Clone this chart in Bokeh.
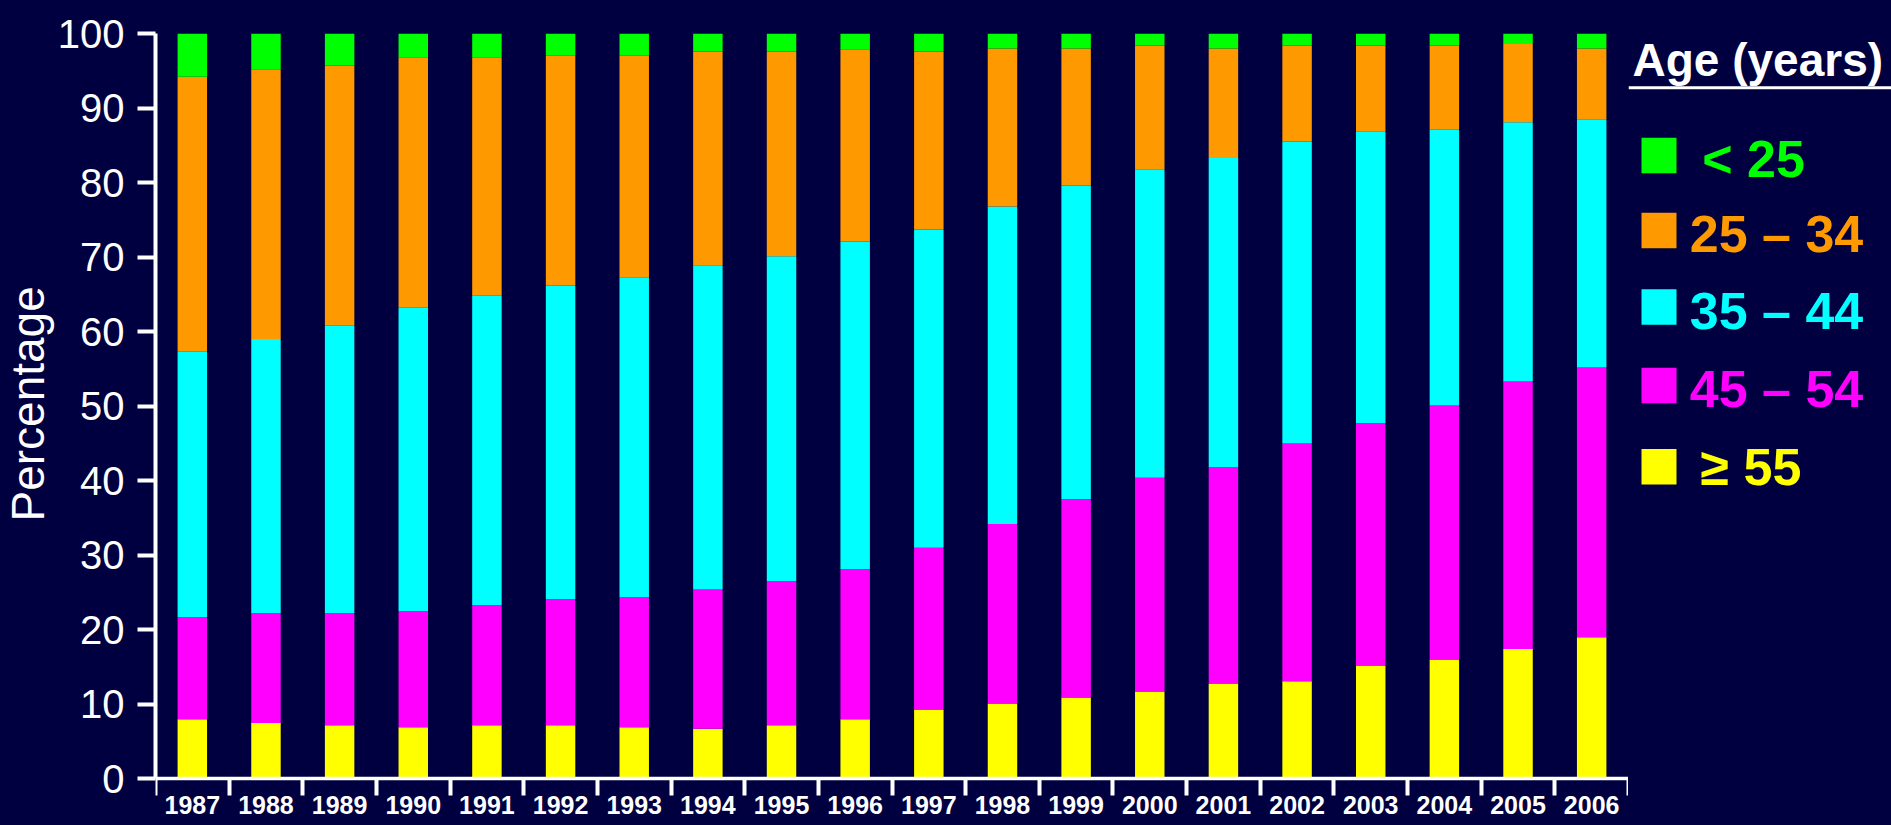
from bokeh.plotting import figure
from bokeh.models import (Range1d, LinearAxis, FixedTicker, ColumnDataSource, Label, Title)
from bokeh.layouts import row
from bokeh.core.properties import value
from bokeh.embed import file_html
from bokeh.resources import INLINE

# ---------------- data ----------------
years = ["1987", "1988", "1989", "1990", "1991", "1992", "1993", "1994", "1995", "1996",
         "1997", "1998", "1999", "2000", "2001", "2002", "2003", "2004", "2005", "2006"]
ge55 = [8.0, 7.5, 7.2, 6.9, 7.2, 7.2, 6.9, 6.7, 7.2, 8.0, 9.3, 10.1, 10.9, 11.7, 12.8, 13.1, 15.2, 16.0, 17.4, 19.0]
a45_54 = [13.7, 14.7, 15.0, 15.6, 16.1, 16.9, 17.5, 18.7, 19.3, 20.1, 21.7, 24.1, 26.6, 28.7, 29.0, 31.9, 32.5, 34.1, 35.9, 36.2]
a35_44 = [35.6, 36.8, 38.6, 40.7, 41.5, 42.1, 42.9, 43.5, 43.6, 44.0, 42.7, 42.6, 42.1, 41.4, 41.5, 40.5, 39.2, 37.0, 34.8, 33.3]
a25_34 = [36.9, 36.2, 34.9, 33.6, 32.0, 30.8, 29.7, 28.7, 27.5, 25.8, 23.9, 21.2, 18.4, 16.6, 14.7, 12.9, 11.5, 11.3, 10.5, 9.5]
lt25 = [5.8, 4.8, 4.3, 3.2, 3.2, 3.0, 3.0, 2.4, 2.4, 2.1, 2.4, 2.0, 2.0, 1.6, 2.0, 1.6, 1.6, 1.6, 1.4, 2.0]
y_ticks = [0, 10, 20, 30, 40, 50, 60, 70, 80, 90, 100]
legend_labels = ["< 25", "25 \u2013 34", "35 \u2013 44", "45 \u2013 54", "\u2265 55"]
legend_title = "Age (years)"
y_label = "Percentage"

# ---------------- style / layout ----------------
BG = "#000040"
FONT = "Liberation Sans"
colors_bottom_up = ["#FFFF00", "#FF00FF", "#00FFFF", "#FF9900", "#00FF00"]
legend_colors = ["#00FF00", "#FF9900", "#00FFFF", "#FF00FF", "#FFFF00"]

W_MAIN, W_LEG, H = 1628, 263, 825
FRAME_LEFT, FRAME_TOP = 153, 33
PX_PER_UNIT = 7.453                     # vertical pixels per percentage point
y_start = -(H - FRAME_TOP - 100 * PX_PER_UNIT) / PX_PER_UNIT

n = len(years)
centers = [i + 0.5 for i in range(n)]
bounds = list(range(n + 1))

source = ColumnDataSource(dict(x=centers, year=years, ge55=ge55, a45_54=a45_54,
                               a35_44=a35_44, a25_34=a25_34, lt25=lt25))

p = figure(width=W_MAIN, height=H, output_backend="svg", toolbar_location=None,
           x_range=Range1d(0, n), y_range=Range1d(y_start, 100),
           x_axis_type=None, y_axis_type=None,
           min_border_left=FRAME_LEFT, min_border_right=0,
           min_border_top=FRAME_TOP, min_border_bottom=0)
p.background_fill_color = BG
p.border_fill_color = BG
p.outline_line_color = None
p.xgrid.visible = False
p.ygrid.visible = False

p.vbar_stack(["ge55", "a45_54", "a35_44", "a25_34", "lt25"], x="x", width=0.4,
             color=colors_bottom_up, line_color=None, source=source)

# y axis
yaxis = LinearAxis(ticker=FixedTicker(ticks=y_ticks), bounds=(0, 100))
yaxis.axis_line_color = "white"
yaxis.axis_line_width = 4
yaxis.major_tick_line_color = "white"
yaxis.major_tick_line_width = 4
yaxis.major_tick_out = 18
yaxis.major_tick_in = 0
yaxis.minor_tick_line_color = None
yaxis.major_label_standoff = 13
yaxis.major_label_text_color = "white"
yaxis.major_label_text_font = FONT
yaxis.major_label_text_font_size = "40px"
p.add_layout(yaxis, "left")

# y axis title (placed as a side title so it sits over the 0-100 span)
p.add_layout(Title(text=y_label, align="left", offset=304, standoff=0,
                   text_color="white", text_font=FONT, text_font_size="46px",
                   text_font_style="normal", vertical_align="middle"), "left")

# x axis (ticks between years, labels at centres)
xaxis = LinearAxis(ticker=FixedTicker(ticks=centers, minor_ticks=bounds),
                   fixed_location=0,
                   major_label_overrides={c: y for c, y in zip(centers, years)})
xaxis.axis_line_color = "white"
xaxis.axis_line_width = 3.5
xaxis.major_tick_line_color = None
xaxis.major_tick_out = 17
xaxis.major_tick_in = 0
xaxis.minor_tick_line_color = "white"
xaxis.minor_tick_line_width = 4
xaxis.minor_tick_out = 17
xaxis.minor_tick_in = 0
xaxis.major_label_standoff = 0
xaxis.major_label_text_color = "white"
xaxis.major_label_text_font = FONT
xaxis.major_label_text_font_style = "bold"
xaxis.major_label_text_font_size = "25px"
p.add_layout(xaxis, "below")

# ---------------- legend panel (data units = page pixels) ----------------
leg = figure(width=W_LEG, height=H, output_backend="svg", toolbar_location=None,
             x_range=Range1d(W_MAIN, W_MAIN + W_LEG), y_range=Range1d(H, FRAME_TOP),
             x_axis_type=None, y_axis_type=None,
             min_border_left=0, min_border_right=0, min_border_top=FRAME_TOP, min_border_bottom=0)
leg.background_fill_color = BG
leg.border_fill_color = BG
leg.outline_line_color = None
leg.xgrid.visible = False
leg.ygrid.visible = False

row_y = [155, 230, 306.5, 385, 466.3]
text_mid = [158.5, 233.3, 310.8, 388.3, 466.2]
text_x = [1701.7, 1689.3, 1689.3, 1689.3, 1700.0]
leg_src = ColumnDataSource(dict(y=row_y, mid=text_mid, tx=text_x,
                                label=legend_labels, color=legend_colors))
leg.rect(x=1658.5, y="y", width=35, height=35.5, color="color", line_color=None, source=leg_src)
leg.text(x="tx", y="mid", text="label", text_color="color", source=leg_src,
         text_font=value(FONT), text_font_size=value("52px"), text_font_style="bold",
         text_baseline="middle", text_align="left")

leg.add_layout(Label(x=1632, y=59.4, text=legend_title, text_color="white", text_font=FONT,
                     text_font_size="46px", text_font_style="bold",
                     text_baseline="middle", text_align="left"))
leg.line(x=[W_MAIN, W_MAIN + W_LEG], y=[87.3, 87.3], line_color="white", line_width=3)

layout = row(p, leg, spacing=0)

html = file_html(layout, INLINE)
html = html.replace("<head>", "<head><style>html,body{background:%s;}</style>" % BG, 1)
open("out.html", "w").write(html)
